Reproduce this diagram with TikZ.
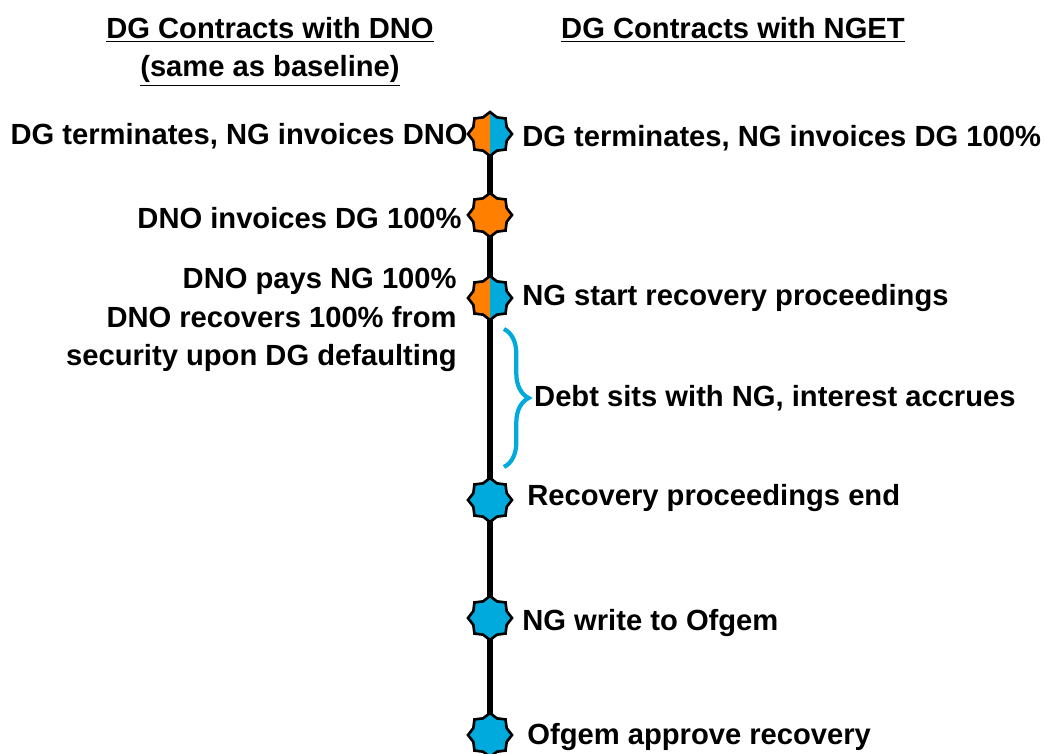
\documentclass[tikz,border=0pt]{standalone}
\usepackage{fontspec}
\setmainfont{Liberation Sans}
\usetikzlibrary{shapes.geometric}
\usetikzlibrary{decorations.pathreplacing}
\usetikzlibrary{backgrounds}

\definecolor{dnoorange}{RGB}{255,127,0}
\definecolor{ngcyan}{RGB}{0,170,220}

\begin{document}
\begin{tikzpicture}[x=0.02cm, y=-0.02cm,
  font=\fontsize{16.6}{21.8}\selectfont\bfseries,
  event/.style={star, star points=8, star point ratio=1.22, minimum size=0.88cm,
    inner sep=0pt, draw=black, line width=1.5pt},
  dnoevent/.style={event, fill=dnoorange},
  ngevent/.style={event, fill=ngcyan},
  bothevent/.style={event, fill=dnoorange,
    path picture={\fill[ngcyan] (path picture bounding box.north)
      rectangle (path picture bounding box.south east);}},
  txt/.style={inner sep=0pt}]

\useasboundingbox (0,0) rectangle (1046,754);

% headers
\node[txt, align=center, anchor=north] (hdno) at (270,17)
  {\underline{DG Contracts with DNO}\\\underline{(same as baseline)}};
\node[txt, anchor=north] (hng) at (733,17) {\underline{DG Contracts with NGET}};

% timeline events
\node[bothevent] (e1) at (490,134) {};
\node[dnoevent]  (e2) at (490,215) {};
\node[bothevent] (e3) at (490,298) {};
\node[ngevent]   (e4) at (490,500) {};
\node[ngevent]   (e5) at (490,618) {};
\node[ngevent]   (e6) at (490,735) {};

\begin{scope}[on background layer]
\draw[line width=3.4pt] (e1.center) -- (e6.center);
\end{scope}

% left side (DNO)
\node[txt, anchor=east] (l1) at (468,136) {DG terminates, NG invoices DNO};
\node[txt, anchor=east] (l2) at (462,218) {DNO invoices DG 100\%};
\node[txt, anchor=east, align=right] (l3) at (457,320)
  {DNO pays NG 100\%\\DNO recovers 100\% from\\security upon DG defaulting};

% right side (NGET)
\node[txt, anchor=west] (r1) at (522,138) {DG terminates, NG invoices DG 100\%};
\node[txt, anchor=west] (r3) at (522,298) {NG start recovery proceedings};
\node[txt, anchor=west] (r4) at (527,498) {Recovery proceedings end};
\node[txt, anchor=west] (r5) at (522,623) {NG write to Ofgem};
\node[txt, anchor=west] (r6) at (527,737) {Ofgem approve recovery};

% debt period
\coordinate (bt) at (504,329);
\coordinate (bb) at (504,467);
\draw[ngcyan, line width=2.4pt, decorate, decoration={brace, amplitude=14pt}]
  (bt) -- (bb) node[midway, right=16pt, black, txt] (debt) {Debt sits with NG, interest accrues};

\end{tikzpicture}
\end{document}
